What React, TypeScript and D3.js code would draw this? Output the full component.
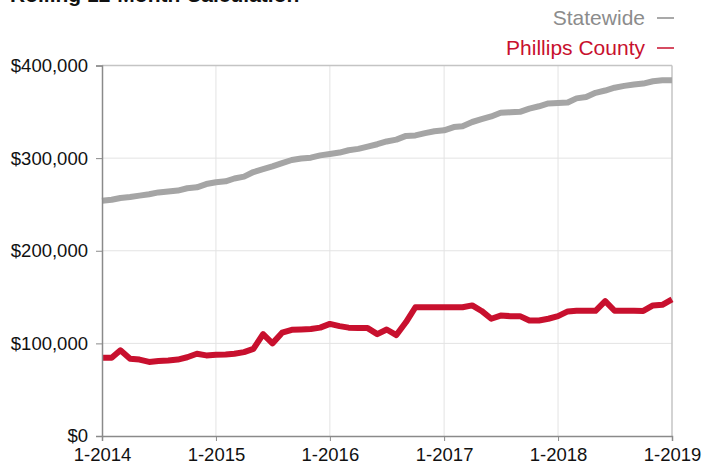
import React, { useEffect, useRef } from "react";
import * as d3 from "d3";

// monthly, 1-2014 .. 1-2019 (thousands of dollars)
const statewide = [
  254, 255, 257, 258, 259.5, 261, 263, 264, 265, 267.5, 268.5, 272, 274, 275,
  278, 280, 285, 288, 291, 294.5, 298, 299.5, 300.5, 303, 304.5, 306, 308.5,
  310, 312.5, 315, 318, 320, 324, 324.5, 327, 329, 330, 333.5, 334.5, 339, 342,
  345, 349, 349.5, 350, 353.5, 356, 359, 359.5, 360, 364.5, 366, 370.5, 373,
  376, 378, 379.5, 380.5, 383, 384, 384,
];
const phillips = [
  84.5, 84.5, 92.5, 83.5, 82.5, 80, 81, 81.5, 82.5, 85, 88.8, 87, 87.7, 88,
  88.8, 90.6, 94, 110, 100, 111.5, 114.7, 115, 115.5, 117, 121, 118.6, 117,
  116.5, 116.5, 110, 115, 109, 123, 139, 139, 139, 139, 139, 139, 141, 135,
  126.6, 130, 129.4, 129.4, 124.7, 124.7, 126.6, 129.4, 134.5, 135.2, 135.2,
  135.2, 145.6, 135.2, 135.2, 135.2, 135, 141, 141.6, 147.4,
];
const yTicks = [0, 100000, 200000, 300000, 400000];
const xTickYears = [2014, 2015, 2016, 2017, 2018, 2019];
const seriesNames = ["Statewide", "Phillips County"];
const seriesColors = ["#a5a5a5", "#c8102e"];
const legendColors = ["#8c8c8c", "#c8102e"];

const W = 704;
const H = 468;
const margin = { top: 65.5, right: 32, bottom: 32, left: 102 };
const font = "'Liberation Sans', Arial, Helvetica, sans-serif";

export default function App() {
  const svgRef = useRef<SVGSVGElement>(null);

  useEffect(() => {
    document.body.style.margin = "0";
    const svg = d3.select(svgRef.current);
    svg.selectAll("*").remove();

    const months = d3.range(statewide.length).map((i) => new Date(2014, i, 1));
    const x = d3
      .scaleTime()
      .domain([new Date(2014, 0, 1), new Date(2019, 0, 1)])
      .range([margin.left, W - margin.right]);
    const y = d3
      .scaleLinear()
      .domain([0, 400000])
      .range([H - margin.bottom, margin.top]);

    const x0 = margin.left;
    const x1 = W - margin.right;
    const y0 = H - margin.bottom;
    const y1 = margin.top;

    // grid
    const g = svg.append("g");
    g.selectAll(".hgrid")
      .data(yTicks.slice(1, -1))
      .enter()
      .append("line")
      .attr("x1", x0)
      .attr("x2", x1)
      .attr("y1", (d) => y(d))
      .attr("y2", (d) => y(d))
      .attr("stroke", "#e3e3e3")
      .attr("stroke-width", 1);
    g.selectAll(".vgrid")
      .data(xTickYears.slice(1, -1))
      .enter()
      .append("line")
      .attr("x1", (d) => x(new Date(d, 0, 1)))
      .attr("x2", (d) => x(new Date(d, 0, 1)))
      .attr("y1", y1)
      .attr("y2", y0)
      .attr("stroke", "#e3e3e3")
      .attr("stroke-width", 1);

    // frame
    g.append("line")
      .attr("x1", x0).attr("x2", x1).attr("y1", y1).attr("y2", y1)
      .attr("stroke", "#c4c4c4").attr("stroke-width", 1.5);
    g.append("line")
      .attr("x1", x1).attr("x2", x1).attr("y1", y1).attr("y2", y0)
      .attr("stroke", "#c4c4c4").attr("stroke-width", 1.5);

    // lines
    const line = d3
      .line<number>()
      .x((_, i) => x(months[i]))
      .y((d) => y(d * 1000));
    [statewide, phillips].forEach((s, k) => {
      svg
        .append("path")
        .datum(s)
        .attr("d", line)
        .attr("fill", "none")
        .attr("stroke", seriesColors[k])
        .attr("stroke-width", 6)
        .attr("stroke-linejoin", "round");
    });

    // y axis
    const yAxis = svg
      .append("g")
      .attr("transform", `translate(${x0},0)`)
      .call(
        d3
          .axisLeft(y)
          .tickValues(yTicks)
          .tickSize(6)
          .tickPadding(8)
          .tickFormat((d) => "$" + d3.format(",")(d as number))
      );
    yAxis.select(".domain").attr("stroke", "#8a8a8a").attr("stroke-width", 1.5);
    yAxis.selectAll(".tick line").attr("stroke", "#8a8a8a");
    yAxis
      .selectAll("text")
      .attr("fill", "#111")
      .style("font-family", font)
      .style("font-size", "18.5px");

    // x axis
    const xAxis = svg
      .append("g")
      .attr("transform", `translate(0,${y0})`)
      .call(
        d3
          .axisBottom(x)
          .tickValues(xTickYears.map((yr) => new Date(yr, 0, 1)))
          .tickSize(5)
          .tickPadding(7)
          .tickFormat((d) => "1-" + (d as Date).getFullYear())
      );
    xAxis.select(".domain").attr("stroke", "#8a8a8a").attr("stroke-width", 1.5);
    xAxis.selectAll(".tick line").attr("stroke", "#8a8a8a");
    xAxis
      .selectAll("text")
      .attr("fill", "#111")
      .style("font-family", font)
      .style("font-size", "18.5px");

    // title (cut off at top, as in the original)
    svg
      .append("text")
      .attr("x", 10)
      .attr("y", 2)
      .attr("fill", "#111")
      .style("font-family", font)
      .style("font-size", "21px")
      .style("font-weight", "bold")
      .text("Rolling 12-Month Calculation");

    // legend
    seriesNames.forEach((name, k) => {
      const ly = 25 + k * 30;
      svg
        .append("text")
        .attr("x", 645)
        .attr("y", ly)
        .attr("text-anchor", "end")
        .attr("fill", legendColors[k])
        .style("font-family", font)
        .style("font-size", "21px")
        .text(name);
      svg
        .append("line")
        .attr("x1", 657)
        .attr("x2", 674)
        .attr("y1", ly - 7)
        .attr("y2", ly - 7)
        .attr("stroke", legendColors[k])
        .attr("stroke-width", 1.5);
    });
  }, []);

  return <svg ref={svgRef} width={W} height={H} style={{ display: "block" }} />;
}
